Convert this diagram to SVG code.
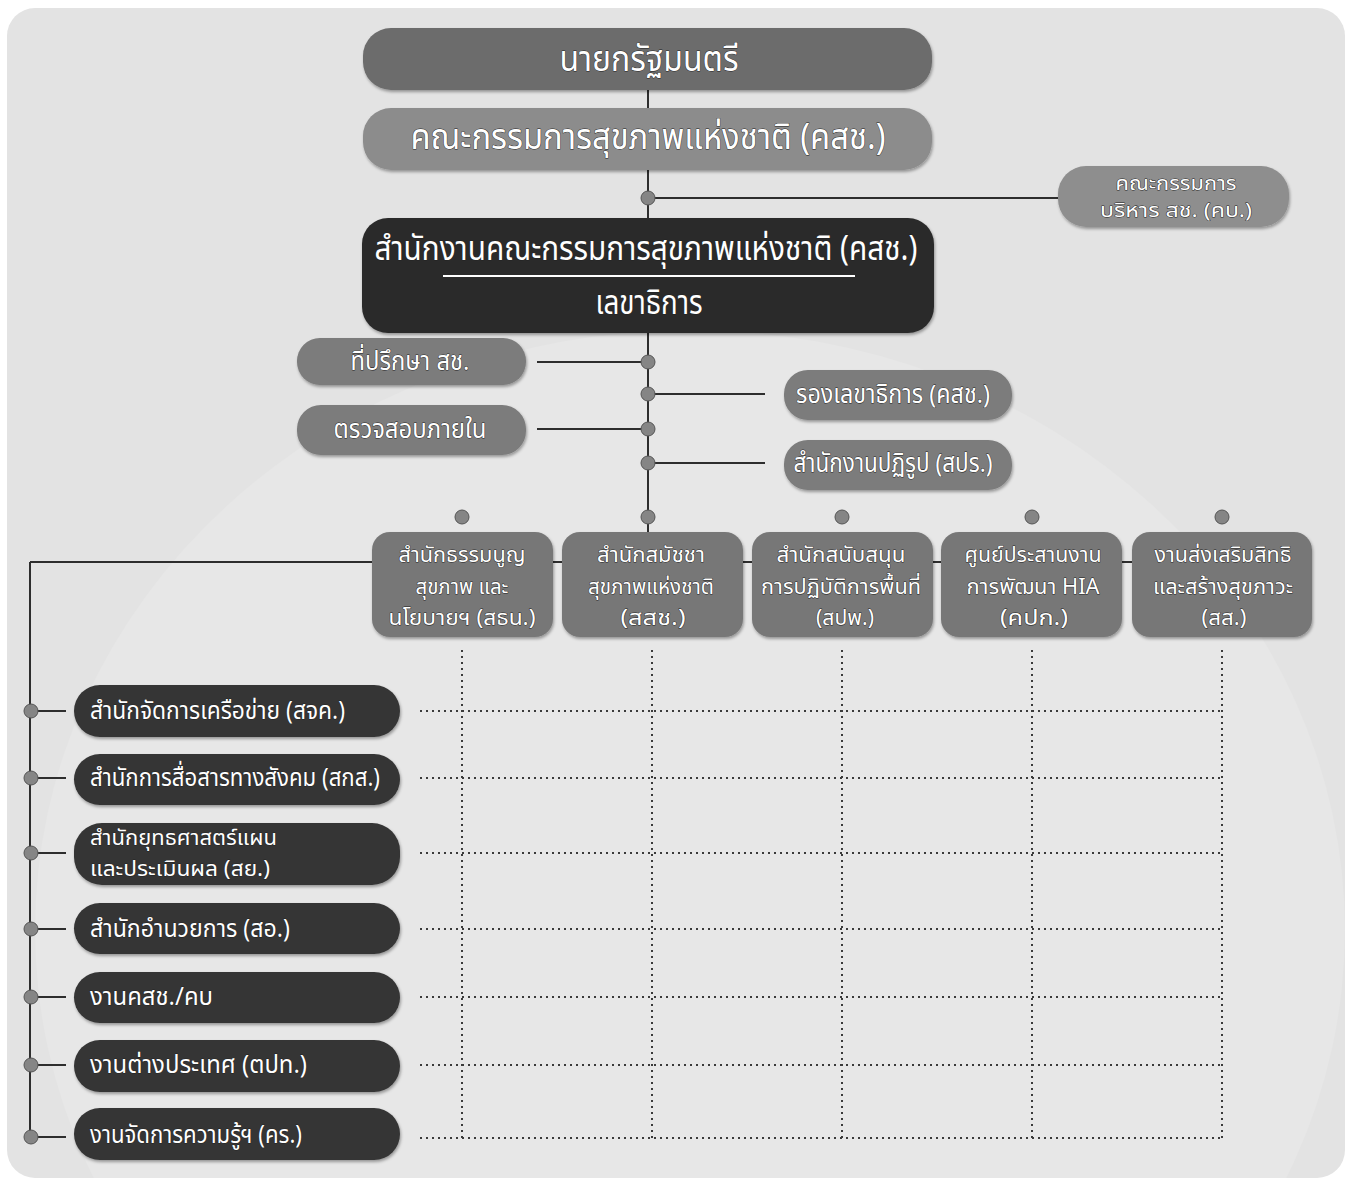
<svg xmlns="http://www.w3.org/2000/svg" width="1357" height="1185" viewBox="0 0 1357 1185">
<defs>
<filter id="sh" x="-10%" y="-20%" width="120%" height="150%">
<feDropShadow dx="1" dy="2" stdDeviation="1.5" flood-color="#000" flood-opacity="0.35"/>
</filter>
</defs>
<style>
text{font-family:"Noto Sans Thai","Noto Sans","DejaVu Sans",sans-serif;fill:#fff;stroke:#222;stroke-width:0.9px;paint-order:stroke;stroke-linejoin:round;dominant-baseline:central}
.c{text-anchor:middle}
.l{text-anchor:start}
.ln{stroke:#2e2e2e;stroke-width:2;fill:none}
.dt{stroke:#3a3a3a;stroke-width:2;stroke-dasharray:2 4;fill:none}
.dot{fill:#858585;stroke:#555;stroke-width:1}
.b{filter:url(#sh)}
</style>
<rect x="0" y="0" width="1357" height="1185" fill="#ffffff"/>
<rect x="7" y="8" width="1338" height="1170" rx="28" fill="#e3e3e3"/>
<ellipse cx="690" cy="930" rx="655" ry="600" fill="#ffffff" opacity="0.14"/>

<g id="connectors">
<line class="ln" x1="648" y1="90" x2="648" y2="532"/>
<line class="ln" x1="648" y1="198" x2="1058" y2="198"/>
<line class="ln" x1="537" y1="362" x2="648" y2="362"/>
<line class="ln" x1="648" y1="394" x2="765" y2="394"/>
<line class="ln" x1="537" y1="429" x2="648" y2="429"/>
<line class="ln" x1="648" y1="463" x2="765" y2="463"/>
<line class="ln" x1="30" y1="562" x2="1132" y2="562"/>
<line class="ln" x1="30" y1="562" x2="30" y2="1138"/>
<line class="ln" x1="31" y1="711" x2="66" y2="711"/>
<line class="ln" x1="31" y1="778" x2="66" y2="778"/>
<line class="ln" x1="31" y1="853" x2="66" y2="853"/>
<line class="ln" x1="31" y1="929" x2="66" y2="929"/>
<line class="ln" x1="31" y1="997" x2="66" y2="997"/>
<line class="ln" x1="31" y1="1065" x2="66" y2="1065"/>
<line class="ln" x1="31" y1="1137" x2="66" y2="1137"/>
<g id="grid">
<line class="dt" x1="462" y1="650" x2="462" y2="1138"/>
<line class="dt" x1="652" y1="650" x2="652" y2="1138"/>
<line class="dt" x1="842" y1="650" x2="842" y2="1138"/>
<line class="dt" x1="1032" y1="650" x2="1032" y2="1138"/>
<line class="dt" x1="1222" y1="650" x2="1222" y2="1138"/>
<line class="dt" x1="420" y1="711" x2="1224" y2="711"/>
<line class="dt" x1="420" y1="778" x2="1224" y2="778"/>
<line class="dt" x1="420" y1="853" x2="1224" y2="853"/>
<line class="dt" x1="420" y1="929" x2="1224" y2="929"/>
<line class="dt" x1="420" y1="997" x2="1224" y2="997"/>
<line class="dt" x1="420" y1="1065" x2="1224" y2="1065"/>
<line class="dt" x1="420" y1="1138" x2="1224" y2="1138"/>
</g>
<circle class="dot" cx="648" cy="198" r="7"/>
<circle class="dot" cx="648" cy="362" r="7"/>
<circle class="dot" cx="648" cy="394" r="7"/>
<circle class="dot" cx="648" cy="429" r="7"/>
<circle class="dot" cx="648" cy="463" r="7"/>
<circle class="dot" cx="462" cy="517" r="7"/>
<circle class="dot" cx="648" cy="517" r="7"/>
<circle class="dot" cx="842" cy="517" r="7"/>
<circle class="dot" cx="1032" cy="517" r="7"/>
<circle class="dot" cx="1222" cy="517" r="7"/>
<circle class="dot" cx="31" cy="711" r="7"/>
<circle class="dot" cx="31" cy="778" r="7"/>
<circle class="dot" cx="31" cy="853" r="7"/>
<circle class="dot" cx="31" cy="929" r="7"/>
<circle class="dot" cx="31" cy="997" r="7"/>
<circle class="dot" cx="31" cy="1065" r="7"/>
<circle class="dot" cx="31" cy="1137" r="7"/>
</g>

<g id="n-pm"><rect class="b" x="363" y="28" width="569" height="62" rx="28" fill="#6c6c6c"/>
<text class="c" x="649" y="60" font-size="36" textLength="179" lengthAdjust="spacingAndGlyphs">นายกรัฐมนตรี</text></g>
<g id="n-nhc"><rect class="b" x="363" y="108" width="569" height="62" rx="28" fill="#8c8c8c"/>
<text class="c" x="648" y="138" font-size="36" textLength="475" lengthAdjust="spacingAndGlyphs">คณะกรรมการสุขภาพแห่งชาติ (คสช.)</text></g>
<g id="n-kb"><rect class="b" x="1058" y="166" width="231" height="61" rx="28" fill="#8e8e8e"/>
<text class="c" x="1176" y="184" font-size="19" textLength="121" lengthAdjust="spacingAndGlyphs">คณะกรรมการ</text>
<text class="c" x="1176" y="211" font-size="19" textLength="152" lengthAdjust="spacingAndGlyphs">บริหาร สช. (คบ.)</text></g>
<g id="n-office"><rect class="b" x="362" y="218" width="572" height="115" rx="26" fill="#2b2b2b"/>
<text class="c" x="646" y="249" font-size="34" textLength="543" lengthAdjust="spacingAndGlyphs">สำนักงานคณะกรรมการสุขภาพแห่งชาติ (คสช.)</text>
<line x1="443" y1="276" x2="855" y2="276" stroke="#ffffff" stroke-width="2"/>
<text class="c" x="649" y="303" font-size="34" textLength="107" lengthAdjust="spacingAndGlyphs">เลขาธิการ</text></g>
<g id="n-advisor"><rect class="b" x="297" y="338" width="229" height="47" rx="23" fill="#7b7b7b"/>
<text class="c" x="410" y="362" font-size="26" textLength="119" lengthAdjust="spacingAndGlyphs">ที่ปรึกษา สช.</text></g>
<g id="n-audit"><rect class="b" x="297" y="405" width="229" height="50" rx="24" fill="#7b7b7b"/>
<text class="c" x="410" y="430" font-size="26" textLength="153" lengthAdjust="spacingAndGlyphs">ตรวจสอบภายใน</text></g>
<g id="n-deputy"><rect class="b" x="784" y="370" width="228" height="50" rx="24" fill="#7b7b7b"/>
<text class="c" x="893" y="395" font-size="26" textLength="194" lengthAdjust="spacingAndGlyphs">รองเลขาธิการ (คสช.)</text></g>
<g id="n-reform"><rect class="b" x="784" y="440" width="228" height="50" rx="24" fill="#7b7b7b"/>
<text class="c" x="893" y="464" font-size="26" textLength="199" lengthAdjust="spacingAndGlyphs">สำนักงานปฏิรูป (สปร.)</text></g>

<g id="n-sthn"><rect class="b" x="372" y="532" width="181" height="105" rx="18" fill="#777777"/>
<text class="c" x="462" y="555" font-size="21" textLength="127" lengthAdjust="spacingAndGlyphs">สำนักธรรมนูญ</text>
<text class="c" x="462" y="587" font-size="21" textLength="93" lengthAdjust="spacingAndGlyphs">สุขภาพ และ</text>
<text class="c" x="462" y="618" font-size="21" textLength="147" lengthAdjust="spacingAndGlyphs">นโยบายฯ (สธน.)</text></g>
<g id="n-ssch"><rect class="b" x="562" y="532" width="181" height="105" rx="18" fill="#777777"/>
<text class="c" x="651" y="555" font-size="21" textLength="108" lengthAdjust="spacingAndGlyphs">สำนักสมัชชา</text>
<text class="c" x="651" y="587" font-size="21" textLength="126" lengthAdjust="spacingAndGlyphs">สุขภาพแห่งชาติ</text>
<text class="c" x="653" y="618" font-size="21" textLength="65" lengthAdjust="spacingAndGlyphs">(สสช.)</text></g>
<g id="n-spp"><rect class="b" x="752" y="532" width="181" height="105" rx="18" fill="#777777"/>
<text class="c" x="841" y="555" font-size="21" textLength="129" lengthAdjust="spacingAndGlyphs">สำนักสนับสนุน</text>
<text class="c" x="841" y="587" font-size="21" textLength="160" lengthAdjust="spacingAndGlyphs">การปฏิบัติการพื้นที่</text>
<text class="c" x="845" y="618" font-size="21" textLength="58" lengthAdjust="spacingAndGlyphs">(สปพ.)</text></g>
<g id="n-kpk"><rect class="b" x="941" y="532" width="181" height="105" rx="18" fill="#777777"/>
<text class="c" x="1033" y="555" font-size="21" textLength="137" lengthAdjust="spacingAndGlyphs">ศูนย์ประสานงาน</text>
<text class="c" x="1033" y="587" font-size="21" textLength="133" lengthAdjust="spacingAndGlyphs">การพัฒนา HIA</text>
<text class="c" x="1034" y="618" font-size="21" textLength="68" lengthAdjust="spacingAndGlyphs">(คปก.)</text></g>
<g id="n-ss"><rect class="b" x="1132" y="532" width="180" height="105" rx="18" fill="#777777"/>
<text class="c" x="1223" y="555" font-size="21" textLength="137" lengthAdjust="spacingAndGlyphs">งานส่งเสริมสิทธิ</text>
<text class="c" x="1223" y="587" font-size="21" textLength="140" lengthAdjust="spacingAndGlyphs">และสร้างสุขภาวะ</text>
<text class="c" x="1224" y="618" font-size="21" textLength="45" lengthAdjust="spacingAndGlyphs">(สส.)</text></g>

<g id="n-sjk"><rect class="b" x="74" y="685" width="326" height="52" rx="26" fill="#353535"/>
<text class="l" x="90" y="711" font-size="25" textLength="255" lengthAdjust="spacingAndGlyphs">สำนักจัดการเครือข่าย (สจค.)</text></g>
<g id="n-sks"><rect class="b" x="74" y="754" width="326" height="51" rx="26" fill="#353535"/>
<text class="l" x="90" y="778" font-size="25" textLength="290" lengthAdjust="spacingAndGlyphs">สำนักการสื่อสารทางสังคม (สกส.)</text></g>
<g id="n-sy"><rect class="b" x="74" y="823" width="326" height="62" rx="28" fill="#353535"/>
<text class="l" x="90" y="838" font-size="21" textLength="187" lengthAdjust="spacingAndGlyphs">สำนักยุทธศาสตร์แผน</text>
<text class="l" x="90" y="869" font-size="21" textLength="180" lengthAdjust="spacingAndGlyphs">และประเมินผล (สย.)</text></g>
<g id="n-so"><rect class="b" x="74" y="903" width="326" height="51" rx="26" fill="#353535"/>
<text class="l" x="90" y="929" font-size="25" textLength="200" lengthAdjust="spacingAndGlyphs">สำนักอำนวยการ (สอ.)</text></g>
<g id="n-kschkb"><rect class="b" x="74" y="972" width="326" height="51" rx="26" fill="#353535"/>
<text class="l" x="90" y="997" font-size="25" textLength="123" lengthAdjust="spacingAndGlyphs">งานคสช./คบ</text></g>
<g id="n-tpt"><rect class="b" x="74" y="1040" width="326" height="52" rx="26" fill="#353535"/>
<text class="l" x="90" y="1065" font-size="25" textLength="217" lengthAdjust="spacingAndGlyphs">งานต่างประเทศ (ตปท.)</text></g>
<g id="n-kr"><rect class="b" x="74" y="1108" width="326" height="52" rx="26" fill="#353535"/>
<text class="l" x="90" y="1135" font-size="25" textLength="212" lengthAdjust="spacingAndGlyphs">งานจัดการความรู้ฯ (คร.)</text></g>
</svg>
